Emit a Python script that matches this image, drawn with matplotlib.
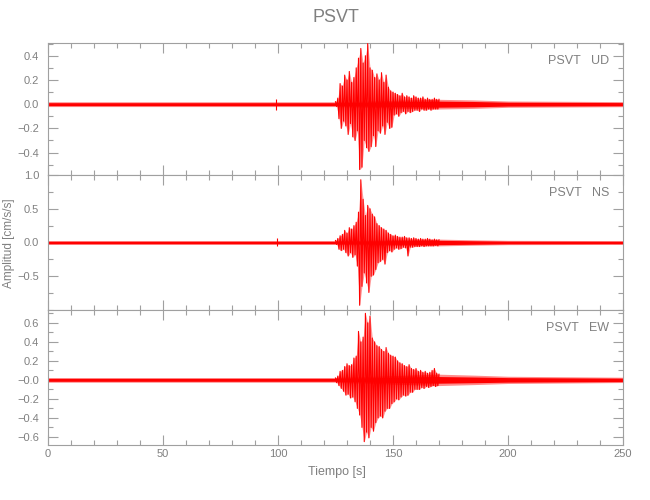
import numpy as np
import matplotlib
matplotlib.use('Agg')
import matplotlib.pyplot as plt
from matplotlib.ticker import MultipleLocator

plt.rcParams['font.family'] = ['Liberation Sans', 'DejaVu Sans']

# burst peaks, one value every 0.5 s starting at 125 s
t0_burst = 125.0
dt_burst = 0.5
ud_peaks = [0.02, -0.02, 0.05, -0.12, 0.17, -0.20, 0.15, -0.14, 0.24, -0.18,
            0.20, -0.25, 0.27, -0.16, 0.18, -0.27, 0.22, -0.30, 0.30, -0.22,
            0.38, -0.54, 0.46, -0.52, 0.34, -0.30, 0.40, -0.36, 0.50, -0.39,
            0.30, -0.35, 0.28, -0.26, 0.22, -0.35, 0.25, -0.22, 0.20, -0.24,
            0.26, -0.18, 0.18, -0.25, 0.24, -0.15, 0.14, -0.20, 0.11, -0.19,
            0.10, -0.09, 0.09, -0.08, 0.08, -0.10, 0.07, -0.07, 0.09, -0.06,
            0.06, -0.08, 0.07, -0.06, 0.06, -0.07, 0.05, -0.06, 0.07, -0.05,
            0.06, -0.05, 0.05, -0.06, 0.05, -0.04, 0.06, -0.05, 0.04, -0.05,
            0.05, -0.04, 0.04, -0.05, 0.04, -0.04, 0.05, -0.04, 0.04, -0.04, 0.04]
ns_peaks = [0.03, -0.03, 0.06, -0.10, 0.10, -0.12, 0.12, -0.10, 0.18, -0.15,
            0.14, -0.20, 0.22, -0.15, 0.20, -0.22, 0.25, -0.18, 0.30, -0.35,
            0.45, -0.93, 0.93, -0.65, 0.64, -0.45, 0.40, -0.60, 0.55, -0.74,
            0.50, -0.50, 0.42, -0.48, 0.38, -0.40, 0.28, -0.30, 0.25, -0.28,
            0.22, -0.25, 0.20, -0.32, 0.18, -0.15, 0.14, -0.12, 0.12, -0.14,
            0.10, -0.10, 0.11, -0.08, 0.09, -0.10, 0.08, -0.09, 0.08, -0.07,
            0.09, -0.08, 0.07, -0.20, 0.07, -0.07, 0.06, -0.07, 0.07, -0.06,
            0.06, -0.06, 0.05, -0.06, 0.06, -0.05, 0.05, -0.06, 0.05, -0.05,
            0.06, -0.05, 0.05, -0.05, 0.04, -0.05, 0.05, -0.04, 0.04, -0.05, 0.04]
ew_peaks = [0.02, -0.03, 0.04, -0.06, 0.09, -0.09, 0.10, -0.12, 0.14, -0.16,
            0.17, -0.15, 0.15, -0.19, 0.16, -0.18, 0.23, -0.23, 0.25, -0.30,
            0.51, -0.37, 0.40, -0.50, 0.45, -0.65, 0.70, -0.55, 0.60, -0.61,
            0.67, -0.50, 0.44, -0.54, 0.40, -0.45, 0.36, -0.40, 0.35, -0.38,
            0.32, -0.40, 0.30, -0.33, 0.34, -0.30, 0.28, -0.30, 0.26, -0.25,
            0.25, -0.23, 0.24, -0.20, 0.20, -0.21, 0.18, -0.18, 0.17, -0.16,
            0.15, -0.17, 0.14, -0.16, 0.16, -0.13, 0.12, -0.13, 0.11, -0.10,
            0.12, -0.10, 0.09, -0.10, 0.10, -0.08, 0.08, -0.09, 0.09, -0.07,
            0.07, -0.08, 0.08, -0.07, 0.10, -0.06, 0.12, -0.07, 0.07, -0.06, 0.06]

# background noise band: knot times, core half widths and fuzzy outer half widths
band_t = [0, 125, 170, 185, 200, 250]
ud_band = [0.012, 0.012, 0.025, 0.022, 0.016, 0.013]
ns_band = [0.018, 0.018, 0.032, 0.026, 0.020, 0.018]
ew_band = [0.015, 0.015, 0.035, 0.030, 0.024, 0.018]
ud_outer = [0.020, 0.020, 0.040, 0.035, 0.026, 0.021]
ns_outer = [0.028, 0.028, 0.050, 0.040, 0.032, 0.028]
ew_outer = [0.025, 0.025, 0.060, 0.050, 0.038, 0.028]

# isolated small spikes (time, top, bottom)
ud_spikes = [(99.3, 0.045, -0.045)]
ns_spikes = [(99.6, 0.06, -0.05)]
ew_spikes = []

components = ['UD', 'NS', 'EW']
peaks = [ud_peaks, ns_peaks, ew_peaks]
bands = [ud_band, ns_band, ew_band]
outers = [ud_outer, ns_outer, ew_outer]
spikes = [ud_spikes, ns_spikes, ew_spikes]
ylims = [(-0.585, 0.505), (-1.0, 1.0), (-0.685, 0.735)]
yticks = [[-0.4, -0.2, 0.0, 0.2, 0.4],
          [-0.5, 0.0, 0.5, 1.0],
          [-0.6, -0.4, -0.2, 0.0, 0.2, 0.4, 0.6]]
ytick_labels = [['\u22120.4', '\u22120.2', '0.0', '0.2', '0.4'],
                ['\u22120.5', '0.0', '0.5', '1.0'],
                ['\u22120.6', '\u22120.4', '\u22120.2', '\u22120.0', '0.2', '0.4', '0.6']]
yminor = [0.1, 0.25, 0.1]

axis_col = '#a0a0a0'
text_col = '#808080'

fig = plt.figure(figsize=(6.5, 5), dpi=100)
left, right = 48 / 650, 623 / 650
edges = [43, 175, 310, 445]

for i in range(3):
    top = 1 - edges[i] / 500
    bot = 1 - edges[i + 1] / 500
    ax = fig.add_axes([left, bot, right - left, top - bot])

    ax.fill_between(band_t, -np.array(outers[i]), outers[i], color='red', lw=0,
                    alpha=0.45, zorder=2)
    ax.fill_between(band_t, -np.array(bands[i]), bands[i], color='red', lw=0, zorder=2)

    p = np.array(peaks[i])
    t = t0_burst + dt_burst * np.arange(len(p))
    up, dn = p > 0, p < 0
    # light envelope behind the trace
    ax.fill_between(t[up], p[up], 0, color='red', lw=0, alpha=0.4, zorder=3)
    ax.fill_between(t[dn], p[dn], 0, color='red', lw=0, alpha=0.4, zorder=3)
    ax.plot(t, p, color='red', lw=0.8, zorder=4)
    for ts, hi, lo in spikes[i]:
        ax.vlines(ts, lo, hi, color='red', lw=0.8, zorder=3)

    ax.set_xlim(0, 250)
    ax.set_ylim(*ylims[i])
    ax.xaxis.set_major_locator(MultipleLocator(50))
    ax.xaxis.set_minor_locator(MultipleLocator(10))
    ax.set_yticks(yticks[i], ytick_labels[i])
    ax.yaxis.set_minor_locator(MultipleLocator(yminor[i]))
    ax.tick_params(which='both', direction='in', top=True, right=True,
                   color=axis_col, labelcolor=text_col, labelsize=8, width=0.8)
    ax.tick_params(which='major', length=7)
    ax.tick_params(which='minor', length=3.5)
    ax.tick_params(axis='y', pad=6.5)
    ax.tick_params(axis='x', pad=3)
    if i < 2:
        ax.tick_params(axis='x', labelbottom=False)
    for s in ax.spines.values():
        s.set_color(axis_col)
        s.set_linewidth(0.8)

    ax.text(0.976, 0.864, 'PSVT   ' + components[i], transform=ax.transAxes,
            ha='right', va='center', color=text_col, fontsize=9)

fig.text(335.5 / 650, 1 - 18 / 500, 'PSVT', ha='center', va='center',
         color=text_col, fontsize=13)
fig.text(9 / 650, 1 - 243 / 500, 'Amplitud [cm/s/s]', rotation=90,
         ha='center', va='center', color=text_col, fontsize=8.5)
fig.text(336.7 / 650, 1 - 471.7 / 500, 'Tiempo [s]', ha='center', va='center',
         color=text_col, fontsize=9)

fig.savefig('out.png', dpi=100)
